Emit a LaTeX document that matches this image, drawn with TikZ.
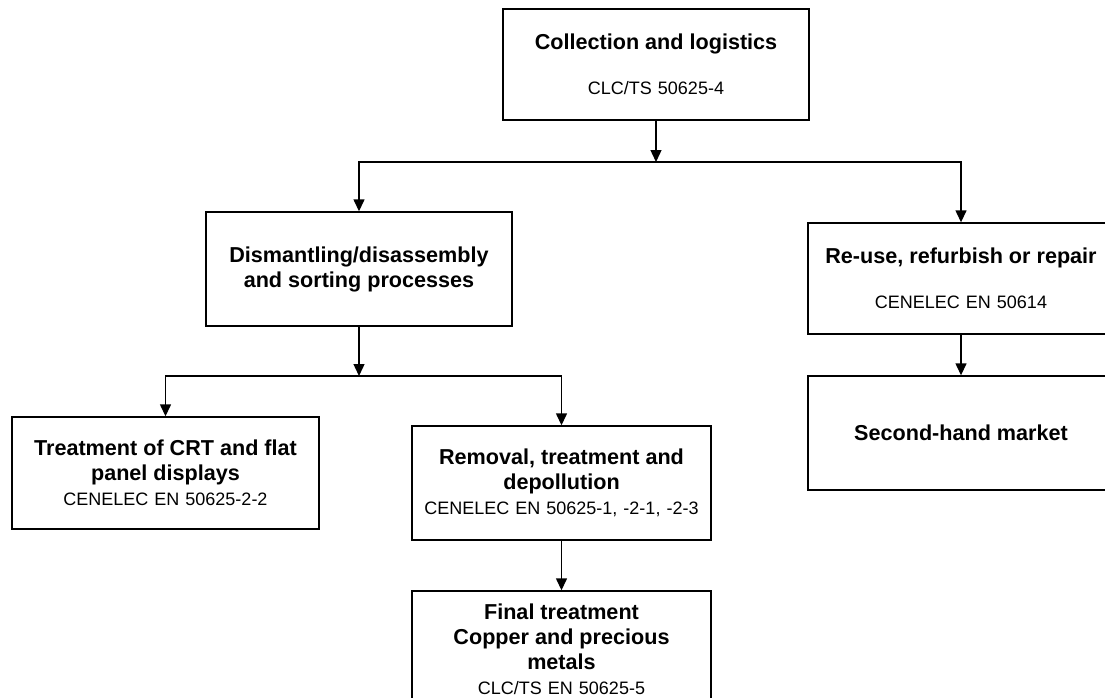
\documentclass[tikz,border=0pt]{standalone}
\usepackage{fontspec}
\setmainfont{Liberation Sans}
\usetikzlibrary{arrows.meta,positioning,calc}

\newcommand{\boxtitle}[1]{{\bfseries\fontsize{21.6}{25}\selectfont #1}}
\newcommand{\boxref}[1]{{\fontsize{18}{25}\selectfont #1}}

\tikzset{
	stage/.style={draw, line width=1.4pt, inner sep=0pt, text width=290pt, align=center,
		minimum width=306pt, minimum height=112pt, font=\fontsize{18}{25}\selectfont},
	flow/.style={line width=1.4pt, -{Triangle[length=12pt,width=11pt]}},
}

\begin{document}
\begin{tikzpicture}[x=1pt,y=-1pt]
	\useasboundingbox (0,0) rectangle (1105,698);
	\clip (0,0) rectangle (1105,698);
	% collection
	\node[stage, minimum height=111pt] (collect) at (656,64.5)
		{\boxtitle{Collection and logistics}\\[20pt]\boxref{CLC/TS 50625-4}};
	% left branch
	\node[stage, minimum height=114pt] (dismantle) at (359,269)
		{\boxtitle{Dismantling/disassembly}\\\boxtitle{and sorting processes}};
	\node[stage, minimum width=307pt] (crt) at (165.5,473)
		{\boxtitle{Treatment of CRT and flat}\\\boxtitle{panel displays}\\\boxref{CENELEC EN 50625-2-2}};
	\node[stage, minimum width=299pt, minimum height=114pt] (removal) at (561.5,483)
		{\boxtitle{Removal, treatment and}\\\boxtitle{depollution}\\\boxref{CENELEC EN 50625-1, -2-1, -2-3}};
	\node[stage, minimum width=299pt, minimum height=117pt] (final) at (561.5,649.5)
		{\boxtitle{Final treatment}\\\boxtitle{Copper and precious}\\\boxtitle{metals}\\\boxref{CLC/TS EN 50625-5}};
	% right branch
	\node[stage, minimum height=111pt] (reuse) at (961,278.5)
		{\boxtitle{Re-use, refurbish or repair}\\[20pt]\boxref{CENELEC EN 50614}};
	\node[stage, minimum height=114pt] (market) at (961,433)
		{\boxtitle{Second-hand market}};
	% connectors
	\coordinate (split1) at (656,162);
	\coordinate (split2) at (359,376);
	\draw[flow] (collect.south) -- (split1);
	\draw[flow] (split1) -| (dismantle.north);
	\draw[flow] (split1) -| (reuse.north);
	\draw[flow] (dismantle.south) -- (split2);
	\draw[flow] (split2) -| (crt.north);
	\draw[flow] (split2) -| (removal.north);
	\draw[flow] (removal.south) -- (final.north);
	\draw[flow] (reuse.south) -- (market.north);
\end{tikzpicture}
\end{document}
